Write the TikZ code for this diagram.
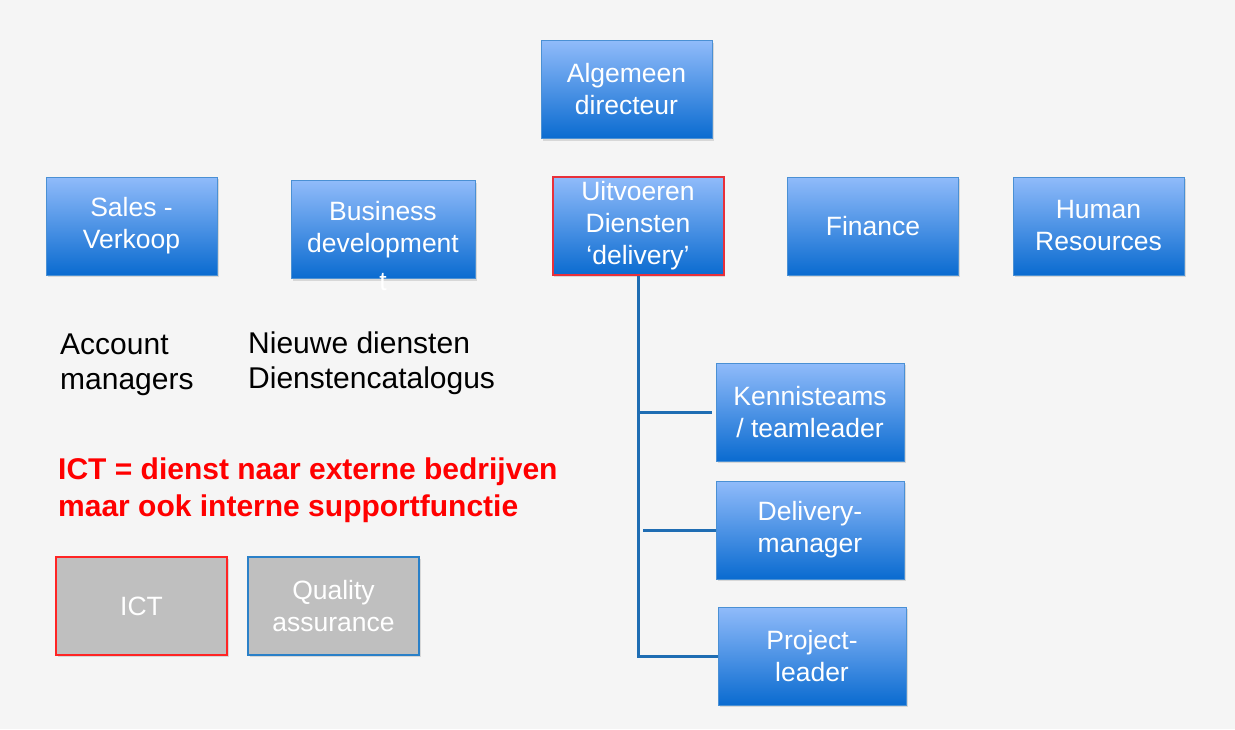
\documentclass[tikz,border=0pt]{standalone}
\usepackage{fontspec}
\setmainfont{Liberation Sans}
\usetikzlibrary{shadows}
\definecolor{bgc}{HTML}{F5F5F5}
\definecolor{btop}{HTML}{90BBFA}
\definecolor{bbot}{HTML}{0A6BD0}
\definecolor{bline}{HTML}{4A90D4}
\definecolor{conn}{HTML}{1F6DB3}
\definecolor{redb}{HTML}{E8303A}
\definecolor{ictred}{HTML}{FF2424}
\definecolor{qablue}{HTML}{2A80C8}
\definecolor{grayf}{HTML}{BFBFBF}
\tikzset{
  bluebox/.style={draw=bline, line width=1pt, top color=btop, bottom color=bbot,
    text=white, align=center, inner sep=0pt, minimum width=171pt, minimum height=98pt,
    font=\fontsize{26.5}{32}\selectfont,
    drop shadow={opacity=0.25, shadow xshift=1.5pt, shadow yshift=-2pt}},
  graybox/.style={fill=grayf, line width=1.5pt, text=white, align=center, inner sep=0pt,
    minimum width=171pt, minimum height=98pt, font=\fontsize{26.5}{32}\selectfont,
    drop shadow={opacity=0.25, shadow xshift=1.5pt, shadow yshift=-2pt}},
  plaintext/.style={anchor=west, align=left, inner sep=0pt, text=black,
    font=\fontsize{30}{35.5}\selectfont},
  redtext/.style={anchor=west, align=left, inner sep=0pt, text=red,
    font=\bfseries\fontsize{30}{37}\selectfont},
  connline/.style={draw=conn, line width=3pt},
}
\begin{document}
\begin{tikzpicture}[x=1pt,y=-1pt]
\fill[bgc] (0,0) rectangle (1235,729);
\useasboundingbox (0,0) rectangle (1235,729);

\node[bluebox] (alg) at (626.5,89.5) {Algemeen\\directeur};
\node[bluebox] (sales) at (131.5,226) {Sales -\\Verkoop};
\node[bluebox, minimum width=184pt] (bus) at (383,229.5) {Business\\development};
\node[text=white, inner sep=0pt, font=\fontsize{26.5}{32}\selectfont] (bust) at (383,282) {t};
\node[bluebox, draw=redb, line width=2pt] (uit) at (638,226) {Uitvoeren\\Diensten\\‘delivery’};
\node[bluebox] (fin) at (873,226) {Finance};
\node[bluebox] (hr) at (1098.5,226) {Human\\Resources};

\node[bluebox, minimum width=188pt] (ken) at (810,412) {Kennisteams\\/ teamleader};
\node[bluebox, minimum width=188pt] (del) at (810,530) {Delivery-\\manager};
\node[bluebox, minimum width=188pt] (proj) at (812,656) {Project-\\leader};

\node[plaintext] (acc) at (60,365) {Account\\managers};
\node[plaintext] (nieuw) at (248,363) {Nieuwe diensten\\Dienstencatalogus};
\node[redtext] (ictt) at (58,490.5) {ICT = dienst naar externe bedrijven\\maar ook interne supportfunctie};

\node[graybox, draw=ictred] (ict) at (141.5,606) {ICT};
\node[graybox, draw=qablue] (qa) at (333.5,606) {Quality\\assurance};

\draw[connline] (uit.south) |- (proj.west);
\draw[connline, shorten >=4pt] (uit.south |- ken.west) -- (ken.west);
\draw[connline, shorten <=5pt] (uit.south |- del.west) -- (del.west);
\end{tikzpicture}
\end{document}
